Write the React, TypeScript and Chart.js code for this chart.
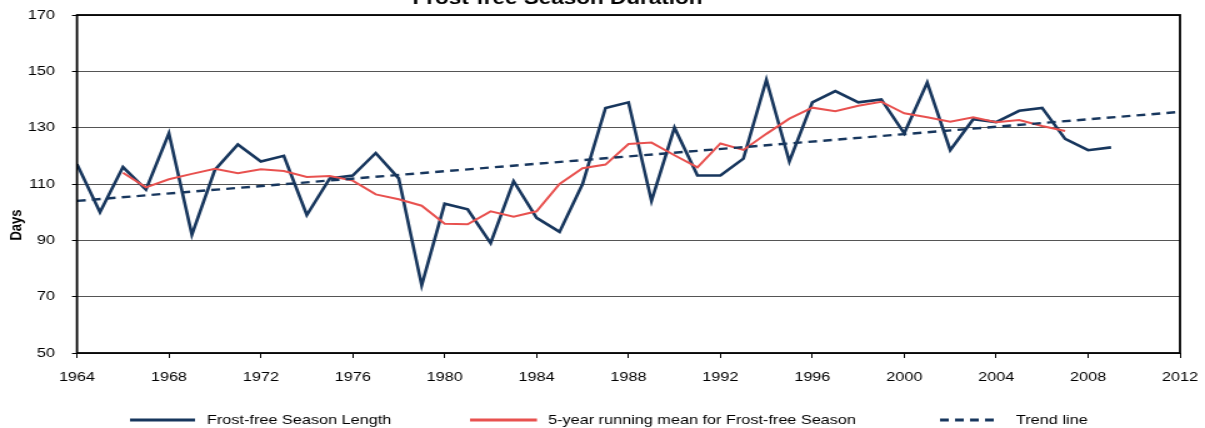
import React, { useEffect, useRef } from 'react';
import { Chart, registerables } from 'chart.js';

Chart.register(...registerables);

// ---------- data ----------
const years = [
  1964, 1965, 1966, 1967, 1968, 1969, 1970, 1971, 1972, 1973,
  1974, 1975, 1976, 1977, 1978, 1979, 1980, 1981, 1982, 1983,
  1984, 1985, 1986, 1987, 1988, 1989, 1990, 1991, 1992, 1993,
  1994, 1995, 1996, 1997, 1998, 1999, 2000, 2001, 2002, 2003,
  2004, 2005, 2006, 2007, 2008, 2009,
];

const seasonLength = [
  117, 100, 116, 108, 128, 92, 115, 124, 118, 120,
  99, 112, 113, 121, 112, 74, 103, 101, 89, 111,
  98, 93, 110, 137, 139, 104, 130, 113, 113, 119,
  147, 118, 139, 143, 139, 140, 128, 146, 122, 133,
  132, 136, 137, 126, 122, 123,
];

const runningMean: (number | null)[] = [
  null, null, 114, 108.8, 111.7, 113.6, 115.4, 113.8, 115.2, 114.6,
  112.5, 112.8, 111.2, 106.3, 104.6, 102.3, 95.9, 95.7, 100.3, 98.4,
  100.3, 110, 115.6, 116.9, 124.2, 124.7, 120.2, 115.9, 124.4, 122.1,
  127.8, 133.2, 137.1, 135.8, 137.8, 139.2, 135.1, 133.7, 132.1, 133.7,
  131.9, 132.7, 130.6, 128.8, null, null,
];

const trendYears = [1964, 2012];
const trendValues = [104, 135.6];

const seriesLabels = [
  'Frost-free Season Length',
  '5-year running mean for Frost-free Season',
  'Trend line',
];

const TITLE = 'Frost-free Season Duration';
const Y_TITLE = 'Days';

const X_MIN = 1964;
const X_MAX = 2012;
const X_STEP = 4;
const Y_MIN = 50;
const Y_MAX = 170;
const Y_STEP = 20;

// ---------- layout ----------
const OUT_W = 1205;
const OUT_H = 428;
const STRETCH = 1.25; // reference is horizontally stretched
const IN_W = Math.round(OUT_W / STRETCH);

const FONT = 'Arial, "Liberation Sans", sans-serif';
const NAVY = '#17365d';
const RED = '#e8514f';

const legendPos = [
  { x0: 104, x1: 156, tx: 165.6 },
  { x0: 376, x1: 429.6, tx: 438.4 },
  { x0: 752, x1: 800, tx: 812.8 },
];

const decorPlugin = {
  id: 'decor',
  afterDraw(chart: any) {
    const { ctx, chartArea } = chart;
    ctx.save();
    // plot frame
    ctx.strokeStyle = '#000';
    ctx.lineWidth = 1.8;
    ctx.strokeRect(
      chartArea.left,
      chartArea.top,
      chartArea.right - chartArea.left,
      chartArea.bottom - chartArea.top
    );
    // title (partly cut off at the top, as in the reference)
    ctx.fillStyle = '#000';
    ctx.font = `bold 18px ${FONT}`;
    ctx.textAlign = 'center';
    ctx.textBaseline = 'alphabetic';
    ctx.fillText(TITLE, 446, 4);
    // y axis title
    ctx.save();
    ctx.translate(13, 225);
    ctx.rotate(-Math.PI / 2);
    ctx.font = `bold 13px ${FONT}`;
    ctx.textAlign = 'center';
    ctx.textBaseline = 'middle';
    ctx.fillText(Y_TITLE, 0, 0);
    ctx.restore();
    // legend
    const ly = 420;
    chart.data.datasets.forEach((ds: any, i: number) => {
      const p = legendPos[i];
      ctx.save();
      ctx.strokeStyle = ds.borderColor;
      ctx.lineWidth = 3;
      ctx.setLineDash(ds.borderDash || []);
      ctx.beginPath();
      ctx.moveTo(p.x0, ly);
      ctx.lineTo(p.x1, ly);
      ctx.stroke();
      ctx.restore();
      ctx.fillStyle = '#000';
      ctx.font = `13px ${FONT}`;
      ctx.textAlign = 'left';
      ctx.textBaseline = 'middle';
      ctx.fillText(ds.label, p.tx, ly);
    });
    ctx.restore();
  },
};

export default function App() {
  const ref = useRef<HTMLCanvasElement | null>(null);

  useEffect(() => {
    if (!ref.current) return;
    Chart.defaults.font.family = FONT;
    Chart.defaults.color = '#000';

    const chart = new Chart(ref.current, {
      type: 'line',
      data: {
        datasets: [
          {
            label: seriesLabels[0],
            data: years.map((yr, i) => ({ x: yr, y: seasonLength[i] })),
            borderColor: NAVY,
            borderWidth: 2.6,
            pointRadius: 0,
            fill: false,
            order: 3,
          },
          {
            label: seriesLabels[1],
            data: years.map((yr, i) => ({ x: yr, y: runningMean[i] })),
            borderColor: RED,
            borderWidth: 2,
            pointRadius: 0,
            fill: false,
            order: 2,
          },
          {
            label: seriesLabels[2],
            data: trendYears.map((yr, i) => ({ x: yr, y: trendValues[i] })),
            borderColor: NAVY,
            borderWidth: 2.4,
            borderDash: [7, 5],
            pointRadius: 0,
            fill: false,
            order: 1,
          },
        ],
      },
      options: {
        animation: false,
        responsive: false,
        devicePixelRatio: 1,
        layout: { padding: { top: 15, right: 20, left: 0, bottom: 0 } },
        plugins: {
          legend: { display: false },
          title: { display: false },
          tooltip: { enabled: false },
        },
        scales: {
          x: {
            type: 'linear',
            min: X_MIN,
            max: X_MAX,
            afterFit: (s: any) => {
              s.height = 75;
              s.paddingLeft = 0;
              s.paddingRight = 0;
            },
            ticks: {
              stepSize: X_STEP,
              font: { size: 13 },
              color: '#000',
              padding: 12,
              maxRotation: 0,
              callback: (v: any) => String(v),
            },
            grid: {
              drawOnChartArea: false,
              drawTicks: true,
              tickLength: 5,
              tickColor: '#000',
            },
            border: { display: false },
          },
          y: {
            min: Y_MIN,
            max: Y_MAX,
            afterFit: (s: any) => {
              s.width = 61.6;
              s.paddingTop = 0;
              s.paddingBottom = 0;
            },
            ticks: {
              stepSize: Y_STEP,
              font: { size: 13 },
              color: '#000',
              padding: 13.6,
            },
            grid: {
              color: '#555',
              lineWidth: 1,
              tickLength: 4,
              tickColor: '#000',
            },
            border: { display: false },
          },
        },
      },
      plugins: [decorPlugin],
    });

    return () => chart.destroy();
  }, []);

  return (
    <div style={{ position: 'fixed', left: 0, top: 0, width: OUT_W, height: OUT_H, background: '#fff' }}>
      <canvas
        ref={ref}
        width={IN_W}
        height={OUT_H}
        style={{ width: `${OUT_W}px`, height: `${OUT_H}px`, display: 'block' }}
      />
    </div>
  );
}
